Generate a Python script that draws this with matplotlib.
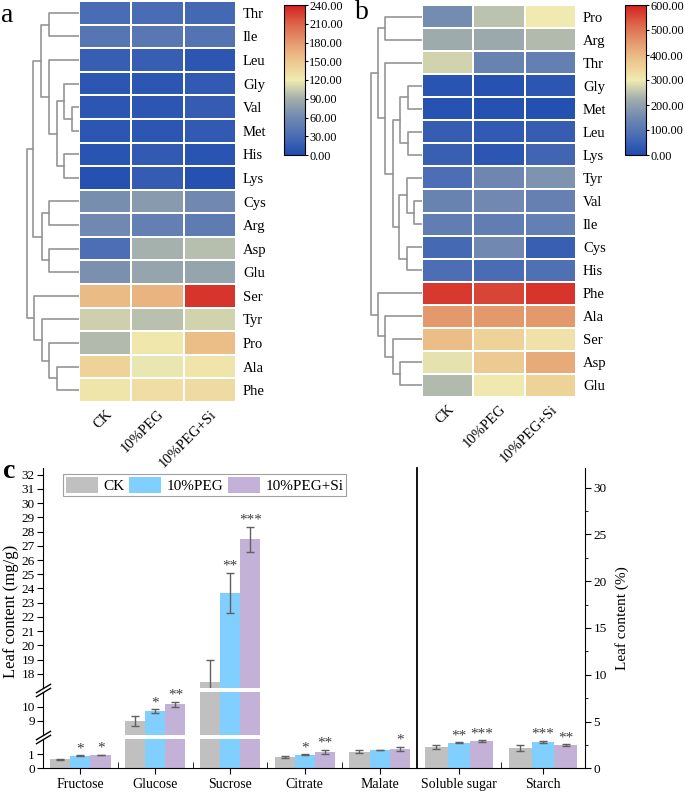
import numpy as np
import matplotlib
matplotlib.use('Agg')
import matplotlib.pyplot as plt
from matplotlib.colors import LinearSegmentedColormap
from matplotlib.ticker import MultipleLocator, FixedLocator

plt.rcParams['font.family'] = ['Liberation Serif', 'DejaVu Sans']

W, H = 685, 792

treatments = ['CK', '10%PEG', '10%PEG+Si']

# panel a (heatmap, scale 0-240)
rows_a = ['Thr', 'Ile', 'Leu', 'Gly', 'Val', 'Met', 'His', 'Lys', 'Cys',
          'Arg', 'Asp', 'Glu', 'Ser', 'Tyr', 'Pro', 'Ala', 'Phe']
a_ck = [30, 40, 17, 10, 10, 10, 8, 5, 64, 60, 32, 66, 158, 106, 96, 140, 126]
a_peg = [30, 42, 17, 10, 10, 10, 14, 15, 74, 50, 91, 82, 163, 99, 123, 118, 132]
a_si = [27, 38, 10, 14, 15, 14, 8, 5, 60, 46, 98, 82, 230, 108, 156, 125, 134]
tree_a = (((('Thr', 'Ile', 30),
            ('Leu', (('Gly', ('Val', 'Met', 7), 15), ('His', 'Lys', 15), 22), 30), 38),
           (('Cys', 'Arg', 30), ('Asp', 'Glu', 30), 37), 46),
          ('Ser', ('Tyr', ('Pro', ('Ala', 'Phe', 22), 30), 37), 45), 52)

# panel b (heatmap, scale 0-600)
rows_b = ['Pro', 'Arg', 'Thr', 'Gly', 'Met', 'Leu', 'Lys', 'Tyr', 'Val',
          'Ile', 'Cys', 'His', 'Phe', 'Ala', 'Ser', 'Asp', 'Glu']
b_ck = [155, 220, 270, 20, 15, 40, 45, 80, 135, 120, 70, 80, 570, 450, 390, 290, 240]
b_peg = [250, 215, 135, 15, 12, 35, 25, 145, 150, 120, 150, 75, 560, 450, 350, 370, 305]
b_si = [300, 240, 125, 25, 10, 40, 60, 170, 130, 125, 45, 85, 575, 450, 320, 420, 350]
tree_b = ((('Pro', 'Arg', 37),
           ('Thr', ((('Gly', 'Met', 14.5), ('Leu', 'Lys', 14.5), 22),
                    (('Tyr', ('Val', 'Ile', 8), 15), ('Cys', 'His', 15), 23), 29), 37), 44),
          ('Phe', ('Ala', ('Ser', ('Asp', 'Glu', 22), 29), 37), 44), 51)

# panel c (bars)
groups_left = ['Fructose', 'Glucose', 'Sucrose', 'Citrate', 'Malate']
ck_left = [0.62, 9.0, 17.45, 0.78, 1.16]
ck_left_err = [0.05, 0.37, 1.55, 0.05, 0.1]
peg_left = [0.88, 9.72, 23.7, 0.95, 1.28]
peg_left_err = [0.03, 0.12, 1.4, 0.03, 0.03]
si_left = [0.93, 10.2, 27.45, 1.15, 1.37]
si_left_err = [0.03, 0.17, 0.88, 0.15, 0.13]
ck_left_sig = ['', '', '', '', '']
peg_left_sig = ['*', '*', '**', '*', '']
si_left_sig = ['*', '**', '***', '**', '*']

groups_right = ['Soluble sugar', 'Starch']
ck_right = [2.25, 2.14]
ck_right_err = [0.2, 0.3]
peg_right = [2.74, 2.81]
peg_right_err = [0.05, 0.12]
si_right = [2.92, 2.49]
si_right_err = [0.1, 0.1]
ck_right_sig = ['', '']
peg_right_sig = ['**', '***']
si_right_sig = ['***', '**']

bar_colors = ['#c0c0c0', '#80cfff', '#c3b1d8']

cmap = LinearSegmentedColormap.from_list('heat', [
    (0.0, '#1f4cb0'), (0.125, '#4a6cb4'), (0.25, '#7189b0'), (0.375, '#a2aeac'),
    (0.5, '#f0ebb1'), (0.625, '#edc78e'), (0.75, '#e49a6e'), (0.875, '#dc6448'),
    (1.0, '#d41f1f')])


def box(x0, y0, x1, y1):
    return [x0 / W, 1 - y1 / H, (x1 - x0) / W, (y1 - y0) / H]


def heatmap(ax, rows, columns, vmax):
    data = np.column_stack(columns)
    mesh = ax.pcolormesh(data, cmap=cmap, vmin=0, vmax=vmax,
                         edgecolors='white', linewidth=1.2)
    ax.set_xlim(0, 3)
    ax.set_ylim(len(rows), 0)
    ax.yaxis.tick_right()
    ax.set_yticks(np.arange(len(rows)) + 0.5, rows)
    ax.set_xticks(np.arange(3) + 0.5, treatments, rotation=45, ha='right',
                  va='top', rotation_mode='anchor')
    ax.tick_params(length=0, labelsize=10.5)
    ax.tick_params(axis='y', pad=5)
    ax.tick_params(axis='x', pad=4)
    for s in ax.spines.values():
        s.set_visible(False)
    return mesh


def draw_tree(ax, node, rows):
    if isinstance(node, str):
        return rows.index(node) + 0.5, 0
    left, right, h = node
    yl, hl = draw_tree(ax, left, rows)
    yr, hr = draw_tree(ax, right, rows)
    ax.plot([hl, h, h, hr], [yl, yl, yr, yr], color='#959595', lw=1.2)
    return (yl + yr) / 2, h


def dendro(ax, tree, rows, xmax):
    draw_tree(ax, tree, rows)
    ax.set_xlim(xmax, 0)
    ax.set_ylim(len(rows), 0)
    ax.axis('off')


def colorbar(fig, mesh, cax, vmax, step):
    cb = fig.colorbar(mesh, cax=cax, ticks=np.arange(0, vmax + 1, step), format='%.2f')
    cb.ax.tick_params(labelsize=8.8, length=2.5, width=0.8, pad=0.5)
    cb.outline.set_linewidth(0.8)


fig = plt.figure(figsize=(W / 100, H / 100), dpi=100)

# ---- panel a
ax_a = fig.add_axes(box(79, 1, 236, 402))
mesh_a = heatmap(ax_a, rows_a, [a_ck, a_peg, a_si], 240)
dendro(fig.add_axes(box(20, 1, 79, 402)), tree_a, rows_a, 59)
colorbar(fig, mesh_a, fig.add_axes(box(284, 5, 305, 155)), 240, 30)
fig.text(1 / W, 1 - 22 / H, 'a', fontsize=20)

# ---- panel b
ax_b = fig.add_axes(box(422, 5, 576, 397))
mesh_b = heatmap(ax_b, rows_b, [b_ck, b_peg, b_si], 600)
dendro(fig.add_axes(box(365, 5, 422, 397)), tree_b, rows_b, 57)
colorbar(fig, mesh_b, fig.add_axes(box(625, 5, 646, 155)), 600, 100)
fig.text(355 / W, 1 - 19 / H, 'b', fontsize=20)

# ---- panel c
ax_top = fig.add_axes(box(43, 468, 417, 688))
ax_mid = fig.add_axes(box(43, 692, 417, 735))
ax_bot = fig.add_axes(box(43, 739, 417, 768.3))
ax_r = fig.add_axes(box(417, 468, 585, 768.3))
left_axes = [ax_top, ax_mid, ax_bot]
limits = [(17, 32.47), (8, 11.07), (0, 2.05)]

width = 0.27
offsets = [-width, 0, width]
x_left = np.arange(1, len(groups_left) + 1)
x_right = np.arange(1, len(groups_right) + 1)
left_series = [(ck_left, ck_left_err, ck_left_sig),
               (peg_left, peg_left_err, peg_left_sig),
               (si_left, si_left_err, si_left_sig)]
right_series = [(ck_right, ck_right_err, ck_right_sig),
                (peg_right, peg_right_err, peg_right_sig),
                (si_right, si_right_err, si_right_sig)]
err_kw = dict(ecolor='#606060', elinewidth=1, capsize=3, capthick=1)

handles = []
for ax, lim in zip(left_axes, limits):
    for k, (vals, errs, sig) in enumerate(left_series):
        b = ax.bar(x_left + offsets[k], vals, width, yerr=errs, color=bar_colors[k],
                   error_kw=err_kw, label=treatments[k])
        if ax is ax_top:
            handles.append(b)
    ax.set_ylim(*lim)
    ax.set_xlim(0.5, len(groups_left) + 0.5)
    ax.spines['right'].set_visible(False)
    ax.spines['top'].set_visible(False)
    ax.tick_params(axis='y', direction='out', length=4, labelsize=9.5, pad=2)

# stars go into the segment where the error bar ends
for k, (vals, errs, sig) in enumerate(left_series):
    for i, s in enumerate(sig):
        if not s:
            continue
        top = vals[i] + errs[i]
        ax = ax_top if top > 17 else (ax_mid if top > 8 else ax_bot)
        ax.text(x_left[i] + offsets[k], top, s, ha='center', va='bottom',
                fontsize=11, color='#404040', clip_on=False)

ax_top.yaxis.set_major_locator(FixedLocator(np.arange(18, 33)))
ax_mid.yaxis.set_major_locator(FixedLocator([9, 10]))
ax_bot.yaxis.set_major_locator(FixedLocator([0, 1]))
for ax in [ax_top, ax_mid]:
    ax.spines['bottom'].set_visible(False)
    ax.tick_params(axis='x', bottom=False, labelbottom=False)

ax_bot.set_xticks(x_left, groups_left)
ax_bot.xaxis.set_minor_locator(FixedLocator(np.arange(1.5, len(groups_left), 1)))
ax_bot.tick_params(axis='x', which='major', direction='out', length=4, labelsize=10, pad=3)
ax_bot.tick_params(axis='x', which='minor', direction='in', length=4)

# axis break marks
brk = dict(marker=[(-1, -0.6), (1, 0.6)], markersize=11, linestyle='none',
           color='k', mec='k', mew=1, clip_on=False)
for ax in [ax_top, ax_mid]:
    ax.plot([0], [0], transform=ax.transAxes, **brk)
for ax in [ax_mid, ax_bot]:
    ax.plot([0], [1], transform=ax.transAxes, **brk)

leg = ax_top.legend(handles=handles, loc='upper left', bbox_to_anchor=(0.053, 0.975),
                    ncol=3, fontsize=11, handlelength=2.1, handleheight=1.3,
                    handletextpad=0.35, columnspacing=0.3, borderpad=0.2,
                    borderaxespad=0, fancybox=False, framealpha=1, edgecolor='#a0a0a0')
leg.get_frame().set_linewidth(0.8)

# right part (%)
for k, (vals, errs, sig) in enumerate(right_series):
    ax_r.bar(x_right + offsets[k], vals, width, yerr=errs, color=bar_colors[k],
             error_kw=err_kw)
    for i, s in enumerate(sig):
        if s:
            ax_r.text(x_right[i] + offsets[k], vals[i] + errs[i], s, ha='center',
                      va='bottom', fontsize=11, color='#404040')
ax_r.set_xlim(0.5, len(groups_right) + 0.5)
ax_r.set_ylim(0, 32.1)
ax_r.spines['top'].set_visible(False)
ax_r.spines['left'].set_linewidth(1.3)
ax_r.yaxis.tick_right()
ax_r.yaxis.set_label_position('right')
ax_r.yaxis.set_major_locator(MultipleLocator(5))
ax_r.yaxis.set_minor_locator(MultipleLocator(2.5))
ax_r.tick_params(axis='y', which='major', direction='out', length=4, labelsize=9.5, pad=2)
ax_r.tick_params(axis='y', which='minor', direction='out', length=2.5)
ax_r.set_xticks(x_right, groups_right)
ax_r.xaxis.set_minor_locator(FixedLocator([1.5]))
ax_r.tick_params(axis='x', which='major', direction='out', length=4, labelsize=10, pad=3)
ax_r.tick_params(axis='x', which='minor', direction='in', length=4)
ax_r.set_ylabel('Leaf content (%)', fontsize=11, labelpad=6)

fig.text(11 / W, 1 - 611 / H, 'Leaf content (mg/g)', rotation=90, fontsize=12,
         ha='center', va='center')
fig.text(3 / W, 1 - 478 / H, 'c', fontsize=20, fontweight='bold')

fig.savefig('out.png', dpi=100)
